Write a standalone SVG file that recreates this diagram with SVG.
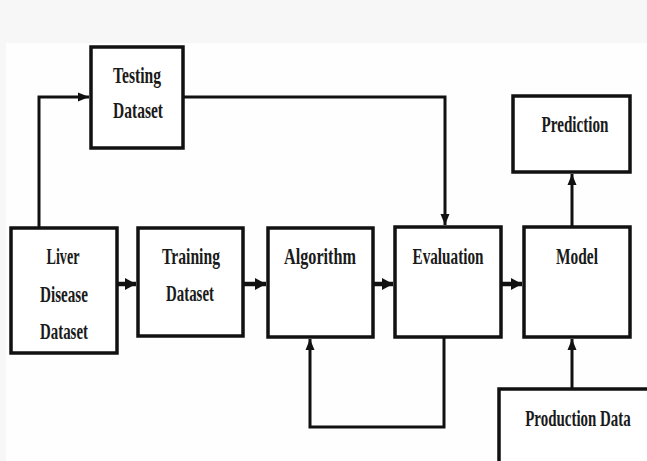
<svg xmlns="http://www.w3.org/2000/svg" width="647" height="461" viewBox="0 0 647 461">
<defs>
<style>
.box{fill:#ffffff;stroke:#111;stroke-width:3.5}
.lbl{font-family:"Liberation Serif","Times New Roman",serif;font-weight:bold;font-size:23px;fill:#1a1a1a;text-anchor:middle}
.c{fill:none;stroke:#111;stroke-width:3}
.ct{fill:none;stroke:#111;stroke-width:4.5}
</style>
<marker id="ah" markerUnits="userSpaceOnUse" markerWidth="12" markerHeight="12" viewBox="0 0 12 12" refX="11" refY="6" orient="auto">
<path d="M0,1.5 L11,6 L0,10.5 Z" fill="#111"/>
</marker>
<marker id="ahb" markerUnits="userSpaceOnUse" markerWidth="12" markerHeight="14" viewBox="0 0 12 14" refX="11" refY="7" orient="auto">
<path d="M0,1 L11,7 L0,13 Z" fill="#111"/>
</marker>
</defs>
<rect x="0" y="0" width="647" height="461" fill="#f7f7f7"/>
<rect x="6" y="43" width="641" height="418" fill="#fefefe"/>
<g id="connectors">
<path class="c" d="M39,228 V97 H89" marker-end="url(#ah)"/>
<path class="c" d="M183,97 H445 V225" marker-end="url(#ah)"/>
<path class="ct" d="M117,284 H136" marker-end="url(#ahb)"/>
<path class="ct" d="M243,284 H266" marker-end="url(#ahb)"/>
<path class="ct" d="M373,284 H393" marker-end="url(#ahb)"/>
<path class="ct" d="M501,284 H522" marker-end="url(#ahb)"/>
<path class="c" d="M444,337 V427 H310 V339" marker-end="url(#ah)"/>
<path class="c" d="M572,227 V174" marker-end="url(#ah)"/>
<path class="c" d="M572,389 V339" marker-end="url(#ah)"/>
</g>
<g id="testing">
<rect class="box" x="91" y="47" width="92" height="101"/>
<text class="lbl" x="137" y="83" textLength="48" lengthAdjust="spacingAndGlyphs">Testing</text>
<text class="lbl" x="138" y="118" textLength="50" lengthAdjust="spacingAndGlyphs">Dataset</text>
</g>
<g id="liver">
<rect class="box" x="11" y="228" width="106" height="125"/>
<text class="lbl" x="63" y="264" textLength="33" lengthAdjust="spacingAndGlyphs">Liver</text>
<text class="lbl" x="64" y="302" textLength="48" lengthAdjust="spacingAndGlyphs">Disease</text>
<text class="lbl" x="64" y="339" textLength="48" lengthAdjust="spacingAndGlyphs">Dataset</text>
</g>
<g id="training">
<rect class="box" x="138" y="228" width="105" height="108"/>
<text class="lbl" x="191" y="264" textLength="58" lengthAdjust="spacingAndGlyphs">Training</text>
<text class="lbl" x="190" y="301" textLength="48" lengthAdjust="spacingAndGlyphs">Dataset</text>
</g>
<g id="algorithm">
<rect class="box" x="268" y="228" width="105" height="109"/>
<text class="lbl" x="320" y="264" textLength="72" lengthAdjust="spacingAndGlyphs">Algorithm</text>
</g>
<g id="evaluation">
<rect class="box" x="395" y="227" width="106" height="110"/>
<text class="lbl" x="448" y="264" textLength="71" lengthAdjust="spacingAndGlyphs">Evaluation</text>
</g>
<g id="model">
<rect class="box" x="524" y="227" width="106" height="110"/>
<text class="lbl" x="577" y="264" textLength="42" lengthAdjust="spacingAndGlyphs">Model</text>
</g>
<g id="prediction">
<rect class="box" x="513" y="96" width="117" height="76"/>
<text class="lbl" x="575" y="132" textLength="67" lengthAdjust="spacingAndGlyphs">Prediction</text>
</g>
<g id="production">
<rect x="499" y="389" width="148" height="72" fill="#ffffff"/>
<path d="M499,461 V389 H647" fill="none" stroke="#111" stroke-width="3.5"/>
<text class="lbl" transform="translate(578,426) scale(0.65,1)" x="0" y="0">Production Data</text>
</g>
</svg>
